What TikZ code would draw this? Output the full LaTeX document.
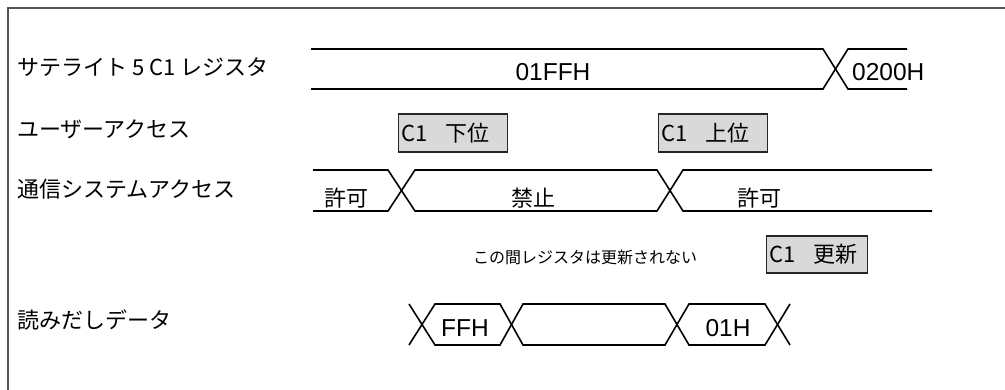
\documentclass[tikz,border=0pt]{standalone}
\usepackage{fontspec}
\setmainfont{Noto Sans CJK JP}
\newfontfamily\arialf{Liberation Sans}
\begin{document}
\begin{tikzpicture}[x=1pt,y=-1pt,
  frameline/.style={draw=black!67, line width=2.4pt},
  bus/.style={draw=black, line width=1.6pt, line join=miter},
  lbl/.style={anchor=west, inner sep=0pt, font=\fontsize{22}{26}\selectfont},
  val/.style={inner sep=0pt, font=\arialf\fontsize{24.5}{28}\selectfont},
  st/.style={inner sep=0pt, font=\fontsize{22}{26}\selectfont},
  note/.style={inner sep=0pt, font=\fontsize{16}{19}\selectfont},
  regbox/.style={draw=black!85, line width=1.4pt, fill=black!15, anchor=west,
    inner xsep=3pt, inner ysep=0pt, align=left, minimum height=38pt,
    font=\fontsize{22}{26}\selectfont}]
\useasboundingbox (0,0) rectangle (1005,390);
% frame
\coordinate (fbl) at (8,392);
\coordinate (ftl) at (8,8);
\coordinate (ftr) at (1007,8);
\draw[frameline] (fbl) -- (ftl) -- (ftr);
% labels
\node[lbl] (l1) at (17,67) {サテライト 5 C1 レジスタ};
\node[lbl] (l2) at (17,129) {ユーザーアクセス};
\node[lbl] (l3) at (17,189) {通信システムアクセス};
\node[lbl] (l4) at (17,320) {読みだしデータ};
% row 1: register
\draw[bus] (311,49) -- (823,49) -- (848,89) -- (907,89);
\draw[bus] (311,89) -- (823,89) -- (848,49) -- (907,49);
\node[val] (v1) at (553,72) {01FFH};
\node[val, anchor=west] (v2) at (852,72) {0200H};
% row 2: user access
\node[regbox, text width=103pt] (lo) at (398,133) {\makebox[2em][l]{C1}下位};
\node[regbox, text width=103pt] (hi) at (658,133) {\makebox[2em][l]{C1}上位};
% row 3: communication access
\draw[bus] (313,170) -- (388,170) -- (415,211) -- (657,211) -- (683,170) -- (932,170);
\draw[bus] (313,211) -- (388,211) -- (415,170) -- (657,170) -- (683,211) -- (932,211);
\node[st] (s1) at (346,198) {許可};
\node[st] (s2) at (533,198) {禁止};
\node[st] (s3) at (759,198) {許可};
% note and update box
\node[note] (n1) at (585,257) {この間レジスタは更新されない};
\node[regbox, text width=95pt, minimum height=37pt] (upd) at (766,254.5) {\makebox[2em][l]{C1}更新};
% row 4: read data
\draw[bus] (409,304) -- (435,345) -- (500,345) -- (523,304) -- (665,304) -- (689,345) -- (765,345) -- (790,304);
\draw[bus] (409,345) -- (435,304) -- (500,304) -- (523,345) -- (665,345) -- (689,304) -- (765,304) -- (790,345);
\node[val] (d1) at (465,328) {FFH};
\node[val] (d2) at (728,328) {01H};
\end{tikzpicture}
\end{document}
